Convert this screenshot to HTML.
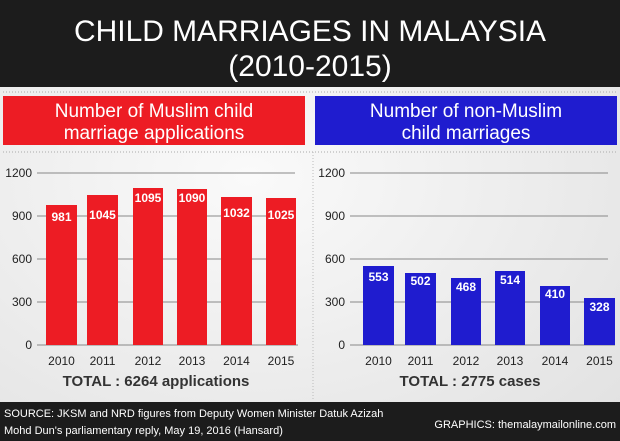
<!DOCTYPE html>
<html><head><style>
body{margin:0;width:620px;height:441px;overflow:hidden;background:#e8e8e8}
svg{display:block}
text{font-family:"Liberation Sans",sans-serif}
</style></head><body>
<svg width="620" height="441" xmlns="http://www.w3.org/2000/svg">
<defs><radialGradient id="g" cx="0.4" cy="0.4" r="0.8"><stop offset="0" stop-color="#fafafa"/><stop offset="1" stop-color="#e2e2e2"/></radialGradient></defs>
<rect x="0" y="0" width="620" height="441" fill="url(#g)"/>
<rect x="0" y="0" width="620" height="87" fill="#1c1c1c"/>
<text x="310" y="41" fill="#fff" font-size="30" text-anchor="middle" textLength="472" lengthAdjust="spacingAndGlyphs">CHILD MARRIAGES IN MALAYSIA</text>
<text x="310" y="76" fill="#fff" font-size="30" text-anchor="middle">(2010-2015)</text>
<line x1="3" y1="92" x2="617" y2="92" stroke="#aaa" stroke-dasharray="1,2"/>
<line x1="3" y1="152" x2="617" y2="152" stroke="#aaa" stroke-dasharray="1,2"/>
<line x1="313" y1="152" x2="313" y2="400" stroke="#bbb" stroke-dasharray="1,2"/>
<rect x="3" y="96" width="302" height="49" fill="#ed1c24"/>
<rect x="315" y="96" width="302" height="49" fill="#1f1ccf"/>
<g fill="#fff" font-size="19" text-anchor="middle">
<text x="154" y="117">Number of Muslim child</text>
<text x="154" y="139">marriage applications</text>
<text x="466" y="117">Number of non-Muslim</text>
<text x="466" y="139">child marriages</text>
</g>
<g stroke="#888" stroke-width="1">
<line x1="37" y1="173" x2="295" y2="173"/><line x1="37" y1="216" x2="295" y2="216"/><line x1="37" y1="259" x2="295" y2="259"/><line x1="37" y1="302" x2="295" y2="302"/><line x1="37" y1="345" x2="298" y2="345"/>
<line x1="350" y1="173" x2="608" y2="173"/><line x1="350" y1="216" x2="608" y2="216"/><line x1="350" y1="259" x2="608" y2="259"/><line x1="350" y1="302" x2="608" y2="302"/><line x1="350" y1="345" x2="615" y2="345"/>
</g>
<g font-size="12" fill="#222" text-anchor="end">
<text x="32" y="177">1200</text><text x="32" y="220">900</text><text x="32" y="263">600</text><text x="32" y="306">300</text><text x="32" y="349">0</text>
<text x="345" y="177">1200</text><text x="345" y="220">900</text><text x="345" y="263">600</text><text x="345" y="306">300</text><text x="345" y="349">0</text>
</g>
<g fill="#ed1c24">
<rect x="46" y="205" width="31" height="140"/><rect x="87" y="195" width="31" height="150"/><rect x="133" y="188" width="30" height="157"/><rect x="177" y="189" width="30" height="156"/><rect x="221" y="197" width="31" height="148"/><rect x="266" y="198" width="30" height="147"/>
</g>
<g fill="#1f1ccf">
<rect x="363" y="266" width="31" height="79"/><rect x="405" y="273" width="31" height="72"/><rect x="451" y="278" width="30" height="67"/><rect x="495" y="271" width="30" height="74"/><rect x="540" y="286" width="30" height="59"/><rect x="584" y="298" width="31" height="47"/>
</g>
<g fill="#fff" font-size="12" font-weight="bold" text-anchor="middle">
<text x="61.5" y="221">981</text><text x="102.5" y="219">1045</text><text x="148" y="202">1095</text><text x="192" y="202">1090</text><text x="236.5" y="217">1032</text><text x="281" y="219">1025</text>
<text x="378.5" y="281">553</text><text x="420.5" y="285">502</text><text x="466" y="291">468</text><text x="510" y="284">514</text><text x="555" y="298">410</text><text x="599.5" y="311">328</text>
</g>
<g font-size="12" fill="#222" text-anchor="middle">
<text x="61.5" y="365">2010</text><text x="102.5" y="365">2011</text><text x="148" y="365">2012</text><text x="192" y="365">2013</text><text x="236.5" y="365">2014</text><text x="281" y="365">2015</text>
<text x="378.5" y="365">2010</text><text x="420.5" y="365">2011</text><text x="466" y="365">2012</text><text x="510" y="365">2013</text><text x="555" y="365">2014</text><text x="599.5" y="365">2015</text>
</g>
<text x="156" y="386" font-size="15" font-weight="bold" fill="#333" text-anchor="middle">TOTAL : 6264 applications</text>
<text x="470" y="386" font-size="15" font-weight="bold" fill="#333" text-anchor="middle">TOTAL : 2775 cases</text>
<rect x="0" y="402" width="620" height="39" fill="#1c1c1c"/>
<text x="4" y="417" font-size="11" fill="#fff">SOURCE:  JKSM and NRD figures from Deputy Women Minister Datuk Azizah</text>
<text x="4" y="434" font-size="11" fill="#fff">Mohd Dun's parliamentary reply, May 19, 2016 (Hansard)</text>
<text x="616" y="428" font-size="11" fill="#fff" text-anchor="end">GRAPHICS: themalaymailonline.com</text>
</svg>
</body></html>
